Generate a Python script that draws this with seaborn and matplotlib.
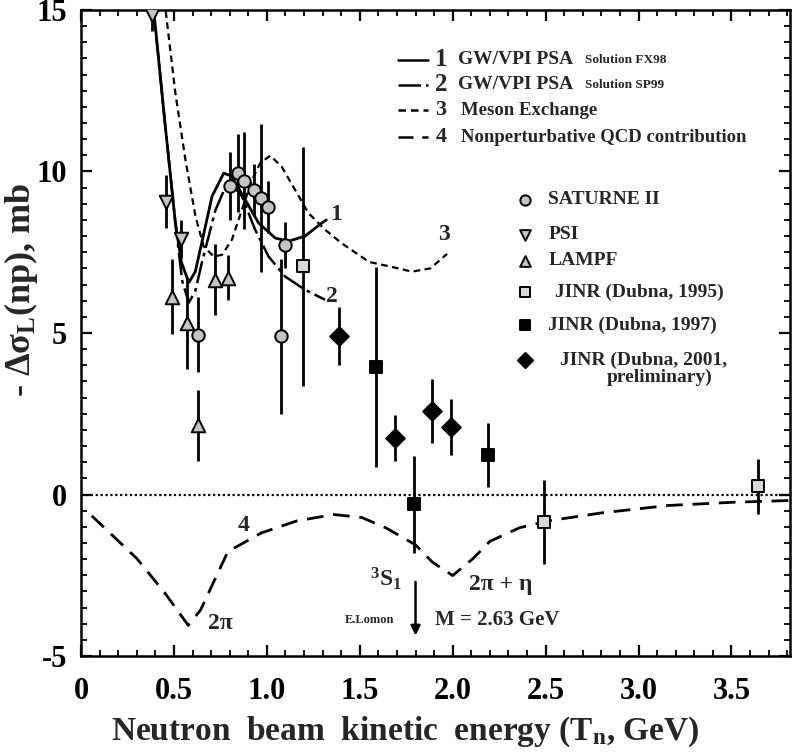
import numpy as np
import matplotlib
matplotlib.use("Agg")
import matplotlib.pyplot as plt
import seaborn as sns

# ---------------- data ----------------
# theory curves
c1_x = [0.386, 0.45, 0.508, 0.54, 0.58, 0.615, 0.65, 0.705, 0.768, 0.812, 0.884, 0.955, 1.045, 1.116, 1.205, 1.295, 1.32]
c1_y = [15.3, 11.6, 8.4, 7.2, 6.56, 6.9, 7.8, 9.23, 9.95, 9.85, 9.12, 8.41, 7.94, 7.84, 8.0, 8.4, 8.5]
c2_x = [0.386, 0.45, 0.508, 0.545, 0.58, 0.615, 0.65, 0.723, 0.786, 0.80, 0.866, 0.937, 1.009, 1.098, 1.205, 1.313]
c2_y = [15.3, 11.6, 8.4, 6.6, 5.94, 6.3, 7.17, 8.8, 9.64, 9.7, 9.23, 8.2, 7.37, 6.75, 6.34, 6.03]
c3_x = [0.449, 0.508, 0.562, 0.616, 0.66, 0.714, 0.759, 0.812, 0.866, 0.92, 0.964, 1.018, 1.08, 1.152, 1.224, 1.313, 1.402, 1.55, 1.67, 1.78, 1.88, 1.97]
c3_y = [15.3, 12.42, 10.36, 8.61, 7.68, 7.37, 7.42, 7.89, 8.82, 9.74, 10.26, 10.49, 10.15, 9.43, 8.71, 8.2, 7.78, 7.2, 7.05, 6.9, 7.0, 7.45]
c4_x = [0.058, 0.30, 0.45, 0.577, 0.644, 0.79, 0.97, 1.16, 1.36, 1.51, 1.64, 1.80, 1.89, 2.0, 2.11, 2.20, 2.36, 2.51, 2.80, 3.16, 3.51, 3.85]
c4_y = [-0.66, -1.98, -3.04, -4.05, -3.57, -1.77, -1.19, -0.82, -0.62, -0.71, -1.03, -1.56, -2.09, -2.51, -1.98, -1.45, -1.03, -0.82, -0.57, -0.34, -0.24, -0.18]

# experimental data
sat_x = [0.627, 0.803, 0.845, 0.875, 0.929, 0.97, 1.005, 1.075, 1.095]
sat_y = [4.95, 9.54, 9.95, 9.72, 9.43, 9.18, 8.9, 4.9, 7.73]
sat_e = [1.15, 1.05, 1.2, 1.5, 0.8, 2.3, 0.8, 2.4, 0.72]
psi_x = [0.383, 0.455, 0.54]
psi_y = [14.85, 9.07, 7.91]
psi_e = [0.5, 0.83, 0.6]
lam_x = [0.487, 0.571, 0.63, 0.723, 0.79]
lam_y = [6.13, 5.3, 2.15, 6.65, 6.71]
lam_e = [1.15, 1.4, 1.1, 1.1, 0.7]
j95_x = [1.197, 2.49, 3.643]
j95_y = [7.06, -0.85, 0.25]
j95_e = [3.7, 1.3, 0.85]
j97_x = [1.59, 1.79, 2.19]
j97_y = [3.95, -0.3, 1.22]
j97_e = [3.1, 1.5, 1.0]
j01_x = [1.39, 1.69, 1.89, 1.99]
j01_y = [4.9, 1.75, 2.58, 2.1]
j01_e = [0.9, 0.7, 1.0, 0.87]

xticks = [0, 0.5, 1.0, 1.5, 2.0, 2.5, 3.0, 3.5]
xticklabels = ["0", "0.5", "1.0", "1.5", "2.0", "2.5", "3.0", "3.5"]
yticks = [-5, 0, 5, 10, 15]
yticklabels = ["-5", "0", "5", "10", "15"]

# ---------------- style ----------------
sns.set_theme(style="ticks")
plt.rcParams["font.family"] = ["Liberation Serif", "DejaVu Serif"]
plt.rcParams["font.weight"] = "bold"
plt.rcParams["mathtext.fontset"] = "custom"
plt.rcParams["mathtext.rm"] = "Liberation Serif:bold"
plt.rcParams["mathtext.it"] = "Liberation Serif:bold:italic"
plt.rcParams["mathtext.bf"] = "Liberation Serif:bold"
plt.rcParams["axes.unicode_minus"] = False

fig = plt.figure(figsize=(7.95, 7.52), dpi=100)
ax = fig.add_axes([81 / 795, 1 - 656 / 752, 709 / 795, 646 / 752])

ax.set_xlim(0.013, 3.815)
ax.set_ylim(-5, 15)

# zero line
ax.axhline(0, color="black", lw=1.6, ls=(0, (1, 1.2)), zorder=1)

# curves
def curve(x, y, dashes, lw=2.0):
    sns.lineplot(x=x, y=y, sort=False, estimator=None, color="black", lw=lw, ax=ax, zorder=2)
    ln = ax.lines[-1]
    if dashes is not None:
        ln.set_dashes(dashes)
    return ln

curve(c1_x, c1_y, None, lw=2.0)
curve(c2_x, c2_y, [9, 2, 1.5, 2], lw=1.8)
curve(c3_x, c3_y, [3, 2], lw=1.6)
curve(c4_x, c4_y, [6, 3.5], lw=2.0)

grey = "#c4c4c4"

def series(x, y, e, marker, s, face, zord=4):
    ax.errorbar(x, y, yerr=e, fmt="none", ecolor="black", elinewidth=2.0, capsize=0, zorder=3)
    sns.scatterplot(x=x, y=y, marker=marker, s=s, color=face, edgecolor="black",
                    linewidth=1.4, ax=ax, zorder=zord, legend=False)

series(sat_x, sat_y, sat_e, "o", 80, grey)
series(psi_x, psi_y, psi_e, "v", 95, grey)
series(lam_x, lam_y, lam_e, "^", 95, grey)
series(j95_x, j95_y, j95_e, "s", 80, "#d8d8d8")
series(j97_x, j97_y, j97_e, "s", 80, "black")
series(j01_x, j01_y, j01_e, "D", 90, "black")

# annotations on curves
ax.text(1.375, 8.66, "1", fontsize=17, ha="center", va="center")
ax.text(1.35, 6.12, "2", fontsize=17, ha="center", va="center")
ax.text(1.955, 8.04, "3", fontsize=17, ha="center", va="center")
ax.text(0.875, -0.97, "4", fontsize=17, ha="center", va="center")
ax.text(0.75, -4.0, "2π", fontsize=17, ha="center", va="center")
ax.text(1.64, -2.6, "$^3$S$_1$", fontsize=17, ha="center", va="center")
ax.text(2.26, -2.78, "2π + η", fontsize=17, ha="center", va="center")
ax.text(1.55, -3.89, "E.Lomon", fontsize=9, ha="center", va="center")
ax.text(2.24, -3.89, "M = 2.63 GeV", fontsize=15, ha="center", va="center")
ax.annotate("", xy=(1.8, -4.45), xytext=(1.8, -2.62),
            arrowprops=dict(arrowstyle="-|>", color="black", lw=1.8, mutation_scale=14))

# legend for curves (drawn in axes coordinates)
T = ax.transAxes
rows = [0.923, 0.884, 0.845, 0.803]
dash_list = [None, [9, 2, 1.5, 2], [3, 2], [6, 3.5]]
nums = ["1", "2", "3", "4"]
for r, d, n in zip(rows, dash_list, nums):
    ln, = ax.plot([0.447, 0.489], [r, r], transform=T, color="black", lw=1.8)
    if d is not None:
        ln.set_dashes(d)
    ax.text(0.508, r, n, transform=T, fontsize=18 if n in "12" else 16, ha="center", va="center")
ax.text(0.532, rows[0], "GW/VPI PSA", transform=T, fontsize=14, va="center")
ax.text(0.711, rows[0], "Solution FX98", transform=T, fontsize=9.5, va="center")
ax.text(0.532, rows[1], "GW/VPI PSA", transform=T, fontsize=14, va="center")
ax.text(0.711, rows[1], "Solution SP99", transform=T, fontsize=9.5, va="center")
ax.text(0.536, rows[2], "Meson Exchange", transform=T, fontsize=13.5, va="center")
ax.text(0.536, rows[3], "Nonperturbative QCD contribution", transform=T, fontsize=13.5, va="center")

# legend for data
mrows = [0.706, 0.652, 0.612, 0.563, 0.512, 0.458]
mk = [("o", grey, 55), ("v", grey, 60), ("^", grey, 60), ("s", "#d8d8d8", 55), ("s", "black", 55), ("D", "black", 60)]
for r, (m, f, s) in zip(mrows, mk):
    ax.scatter([0.626], [r], transform=T, marker=m, s=s, facecolor=f, edgecolor="black", linewidth=1.4, clip_on=False)
fs = 14
ax.text(0.659, mrows[0], "SATURNE II", transform=T, fontsize=fs, va="center")
ax.text(0.659, mrows[1], "PSI", transform=T, fontsize=fs, va="center")
ax.text(0.659, mrows[2], "LAMPF", transform=T, fontsize=fs, va="center")
ax.text(0.668, mrows[3], "JINR (Dubna, 1995)", transform=T, fontsize=fs, va="center")
ax.text(0.659, mrows[4], "JINR (Dubna, 1997)", transform=T, fontsize=fs, va="center")
ax.text(0.676, mrows[5], "JINR (Dubna, 2001,", transform=T, fontsize=fs, va="center")
ax.text(0.891, mrows[5] - 0.027, "preliminary)", transform=T, fontsize=fs, va="center", ha="right")

# axes / ticks
ax.set_xticks(xticks)
ax.set_xticklabels(xticklabels)
ax.set_yticks(yticks)
ax.set_yticklabels(yticklabels)
ax.set_xticks(np.arange(0.1, 3.81, 0.1), minor=True)
ax.set_yticks(np.arange(-5, 15.01, 0.5), minor=True)
ax.tick_params(which="major", direction="in", length=8, width=1.6, top=True, right=True,
               labelsize=22, pad=10, color="black", labelcolor="black")
ax.tick_params(axis="x", which="major", pad=15)
ax.tick_params(which="minor", direction="in", length=4, width=1.3, top=True, right=True, color="black")
for lab in ax.get_xticklabels() + ax.get_yticklabels():
    lab.set_fontweight("bold")
for sp in ax.spines.values():
    sp.set_linewidth(1.8)
    sp.set_color("black")
    sp.set_visible(True)

ax.set_xlabel("Neutron  beam  kinetic  energy (T$_\\mathrm{n}$, GeV)", fontsize=24, fontweight="bold")
ax.xaxis.label.set_va("center")
ax.xaxis.set_label_coords(0.457, -0.118)
ax.set_ylabel("- Δσ$_\\mathrm{L}$(np), mb", fontsize=26, fontweight="bold")
ax.yaxis.label.set_va("center")
ax.yaxis.set_label_coords(-0.085, 0.567)

fig.savefig("out.png", dpi=100)
